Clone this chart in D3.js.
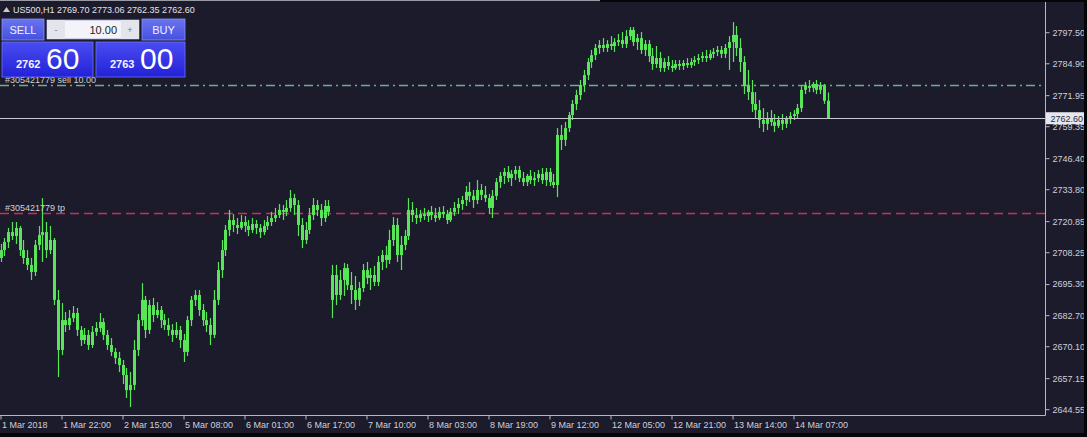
<!DOCTYPE html>
<html><head><meta charset="utf-8">
<script src="https://cdn.jsdelivr.net/npm/d3@7/dist/d3.min.js"></script>
<style>html,body{margin:0;padding:0;background:#1c1b2c;overflow:hidden}svg{display:block}</style>
</head><body>
<svg id="c" width="1087" height="437"></svg>
<script>
const symbolTitle = "US500,H1";
const lastOHLC = ["2769.70","2773.06","2762.35","2762.60"];
const timeLabels = ["1 Mar 2018","1 Mar 22:00","2 Mar 15:00","5 Mar 08:00","6 Mar 01:00","6 Mar 17:00","7 Mar 10:00","8 Mar 03:00","8 Mar 19:00","9 Mar 12:00","12 Mar 05:00","12 Mar 21:00","13 Mar 14:00","14 Mar 07:00"];
const timeLabelBars = [0,16,32,48,64,80,96,112,128,144,160,176,192,208];
const priceTicks = [2797.50,2784.90,2771.95,2759.35,2746.40,2733.80,2720.85,2708.25,2695.30,2682.70,2670.10,2657.15,2644.55];
const bidPrice = 2762.60, askPrice = 2763.00;
const sellLevel = 2776.0, tpLevel = 2724.0;
const orderLabelSell = "#305421779 sell 10.00", orderLabelTp = "#305421779 tp";
const lotSize = "10.00";

const opens = [
2705.9,2709.1,2712.4,2716.4,2714.8,2718.1,2709.1,2705.9,2703.1,2700.2,
2711.2,2715.2,2716.4,2709.1,2713.2,2688.9,2668.6,2680.7,2678.7,2681.5,
2683.6,2676.7,2672.6,2674.7,2670.6,2675.9,2677.5,2679.9,2674.7,2670.6,
2667.8,2665.3,2662.5,2658.4,2652.3,2654.4,2668.6,2680.7,2688.9,2676.7,
2686.8,2682.8,2684.8,2680.7,2678.7,2676.7,2674.7,2676.7,2672.6,2667.8,
2680.7,2688.9,2690.9,2684.8,2680.7,2678.7,2674.7,2688.9,2701.0,2709.1,
2717.3,2721.3,2719.3,2718.1,2720.5,2718.9,2717.3,2719.7,2718.1,2716.4,
2718.9,2720.5,2722.1,2723.3,2725.4,2724.6,2726.2,2730.2,2727.4,2719.3,
2713.2,2717.3,2723.3,2727.4,2725.4,2722.1,2727.0,2688.9,2699.0,2690.9,
2697.0,2701.8,2694.9,2692.9,2688.9,2693.7,2701.0,2697.8,2699.0,2696.2,
2704.3,2707.1,2705.1,2713.2,2719.3,2707.1,2711.2,2714.8,2725.4,2723.3,
2722.1,2723.7,2722.9,2724.6,2723.3,2722.1,2724.6,2723.7,2721.3,2724.6,
2726.2,2727.8,2729.4,2732.7,2731.1,2729.4,2733.5,2731.5,2730.2,2726.2,
2731.1,2736.7,2739.2,2740.8,2738.3,2740.0,2741.6,2738.3,2736.7,2739.2,
2737.5,2738.3,2740.0,2737.5,2740.8,2736.7,2735.5,2755.8,2753.8,2758.6,
2763.9,2768.4,2772.0,2776.1,2780.1,2785.4,2788.2,2791.1,2792.3,2791.1,
2792.7,2791.9,2793.5,2794.3,2792.7,2795.9,2798.4,2793.5,2795.1,2790.3,
2792.7,2787.8,2784.6,2787.0,2783.0,2785.4,2783.8,2783.0,2784.6,2783.8,
2785.0,2784.2,2785.4,2786.2,2787.0,2787.8,2787.0,2788.7,2789.5,2790.3,
2788.7,2791.1,2793.5,2796.4,2791.1,2785.4,2775.7,2773.2,2768.4,2765.9,
2761.9,2760.3,2762.7,2761.1,2759.5,2761.9,2760.3,2762.7,2763.5,2764.3,
2766.7,2774.1,2775.7,2774.9,2776.5,2774.1,2775.7,2769.70];
const highs = [
2711.6,2714.0,2718.1,2720.5,2720.5,2718.9,2713.2,2709.1,2705.9,2713.2,
2718.9,2730.2,2720.5,2718.9,2714.0,2692.9,2687.6,2684.0,2684.8,2686.4,
2685.6,2678.3,2677.5,2676.7,2678.3,2679.9,2683.6,2681.5,2676.7,2673.4,
2669.4,2667.8,2664.5,2661.3,2659.6,2672.6,2683.2,2695.7,2690.5,2688.9,
2689.7,2688.0,2686.4,2683.2,2681.5,2679.1,2679.9,2678.3,2675.1,2682.4,
2690.5,2692.9,2692.9,2687.2,2684.0,2681.5,2692.9,2704.3,2713.2,2719.3,
2725.4,2723.7,2722.1,2723.3,2722.9,2721.3,2722.1,2721.3,2719.7,2721.3,
2722.9,2724.6,2726.2,2727.8,2727.4,2729.4,2733.5,2731.9,2729.4,2722.1,
2720.5,2726.2,2730.2,2729.4,2727.8,2729.4,2729.4,2703.1,2703.1,2701.0,
2703.9,2703.5,2700.2,2698.6,2696.2,2703.5,2704.3,2701.8,2702.7,2706.7,
2709.1,2710.8,2717.3,2722.5,2722.1,2714.8,2717.3,2730.2,2728.6,2726.2,
2725.4,2726.2,2725.4,2727.0,2726.2,2726.6,2727.0,2725.4,2726.2,2728.6,
2730.2,2731.1,2735.1,2736.7,2733.5,2737.5,2735.9,2735.1,2731.9,2733.5,
2738.3,2740.8,2742.4,2743.2,2741.6,2743.2,2743.2,2740.8,2740.0,2741.6,
2740.8,2741.6,2742.4,2742.4,2742.4,2740.0,2758.6,2759.9,2761.1,2765.1,
2770.0,2774.1,2778.1,2782.2,2787.0,2790.3,2792.7,2794.3,2795.1,2794.3,
2795.9,2795.1,2796.8,2797.6,2798.4,2799.6,2799.6,2796.8,2797.6,2794.3,
2794.3,2791.1,2791.9,2789.5,2787.0,2787.8,2786.2,2786.2,2786.2,2786.2,
2787.0,2787.0,2787.8,2788.7,2789.5,2790.3,2790.3,2791.1,2791.9,2791.9,
2792.7,2795.9,2801.6,2800.0,2795.1,2787.8,2782.2,2778.1,2773.2,2770.0,
2766.7,2765.1,2765.9,2764.3,2763.5,2764.3,2763.5,2765.1,2765.9,2768.4,
2775.7,2777.3,2778.1,2777.3,2778.1,2777.3,2776.5,2773.06];
const lows = [
2704.3,2706.7,2709.9,2713.2,2711.6,2706.7,2703.5,2701.0,2697.0,2698.6,
2709.1,2704.3,2705.9,2707.5,2686.8,2657.6,2666.5,2675.9,2676.7,2679.9,
2674.3,2670.2,2671.0,2668.6,2669.4,2674.3,2675.9,2672.6,2668.6,2666.1,
2662.9,2659.6,2654.8,2649.1,2645.4,2652.3,2666.1,2678.3,2673.4,2675.1,
2679.9,2681.5,2677.5,2676.7,2674.3,2671.8,2673.4,2669.4,2663.7,2666.1,
2678.3,2686.4,2682.4,2678.3,2675.9,2670.6,2673.4,2686.8,2697.8,2706.7,
2714.8,2716.4,2715.6,2717.3,2716.4,2714.8,2716.0,2715.6,2714.0,2715.2,
2717.3,2718.9,2720.5,2722.1,2721.3,2722.9,2724.6,2723.3,2714.8,2709.9,
2711.6,2715.6,2721.3,2722.9,2718.9,2720.5,2722.9,2681.5,2686.8,2688.9,
2690.5,2692.9,2687.2,2684.8,2686.4,2692.1,2695.3,2692.9,2694.5,2694.5,
2701.0,2701.8,2703.5,2710.8,2704.3,2701.0,2709.1,2713.2,2720.5,2719.7,
2720.5,2721.3,2720.5,2721.3,2720.5,2721.3,2722.1,2719.7,2720.5,2722.9,
2723.7,2725.4,2727.0,2728.6,2726.2,2727.8,2729.4,2728.6,2723.7,2722.1,
2729.4,2734.3,2735.9,2736.7,2735.1,2737.5,2736.7,2735.1,2735.1,2735.9,
2735.1,2736.7,2735.9,2735.1,2735.1,2734.3,2730.6,2749.7,2751.3,2757.0,
2761.9,2765.9,2770.0,2773.2,2778.1,2783.0,2786.2,2788.7,2789.5,2789.5,
2790.3,2789.5,2791.9,2791.1,2791.1,2794.3,2791.9,2790.3,2788.7,2787.8,
2785.4,2782.2,2783.0,2781.4,2781.4,2782.2,2781.4,2782.2,2782.2,2782.2,
2783.0,2783.0,2783.8,2784.6,2785.4,2785.4,2786.2,2787.0,2787.8,2787.0,
2787.0,2782.2,2785.4,2787.8,2781.4,2772.4,2770.0,2765.1,2762.7,2758.6,
2757.0,2757.8,2759.5,2757.0,2758.6,2757.8,2758.6,2760.3,2761.9,2762.7,
2765.1,2772.4,2773.2,2773.2,2772.4,2772.4,2768.4,2762.35];
const closes = [
2709.1,2712.4,2716.4,2714.8,2718.1,2709.1,2705.9,2703.1,2700.2,2711.2,
2715.2,2716.4,2709.1,2713.2,2688.9,2668.6,2680.7,2678.7,2681.5,2683.6,
2676.7,2672.6,2674.7,2670.6,2675.9,2677.5,2679.9,2674.7,2670.6,2667.8,
2665.3,2662.5,2658.4,2652.3,2654.4,2668.6,2680.7,2688.9,2676.7,2686.8,
2682.8,2684.8,2680.7,2678.7,2676.7,2674.7,2676.7,2672.6,2667.8,2680.7,
2688.9,2690.9,2684.8,2680.7,2678.7,2674.7,2688.9,2701.0,2709.1,2717.3,
2721.3,2719.3,2718.1,2720.5,2718.9,2717.3,2719.7,2718.1,2716.4,2718.9,
2720.5,2722.1,2723.3,2725.4,2724.6,2726.2,2730.2,2727.4,2719.3,2713.2,
2717.3,2723.3,2727.4,2725.4,2722.1,2727.0,2724.6,2699.0,2690.9,2697.0,
2701.8,2694.9,2692.9,2688.9,2693.7,2701.0,2697.8,2699.0,2696.2,2704.3,
2707.1,2705.1,2713.2,2719.3,2707.1,2711.2,2714.8,2725.4,2723.3,2722.1,
2723.7,2722.9,2724.6,2723.3,2722.1,2724.6,2723.7,2721.3,2724.6,2726.2,
2727.8,2729.4,2732.7,2731.1,2729.4,2733.5,2731.5,2730.2,2726.2,2731.1,
2736.7,2739.2,2740.8,2738.3,2740.0,2741.6,2738.3,2736.7,2739.2,2737.5,
2738.3,2740.0,2737.5,2740.8,2736.7,2735.5,2755.8,2753.8,2758.6,2763.9,
2768.4,2772.0,2776.1,2780.1,2785.4,2788.2,2791.1,2792.3,2791.1,2792.7,
2791.9,2793.5,2794.3,2792.7,2795.9,2798.4,2793.5,2795.1,2790.3,2792.7,
2787.8,2784.6,2787.0,2783.0,2785.4,2783.8,2783.0,2784.6,2783.8,2785.0,
2784.2,2785.4,2786.2,2787.0,2787.8,2787.0,2788.7,2789.5,2790.3,2788.7,
2791.1,2793.5,2796.4,2791.1,2785.4,2775.7,2773.2,2768.4,2765.9,2761.9,
2760.3,2762.7,2761.1,2759.5,2761.9,2760.3,2762.7,2763.5,2764.3,2766.7,
2774.1,2775.7,2774.9,2776.5,2774.1,2775.7,2769.70,2762.60];

const W = 1087, H = 437;
const plotRight = 1045.5, plotBottom = 415.5;
const BG = "#1c1b2c", AXIS = "#b8b8c0", TXT = "#d0d0d8", GREEN = "#58e658";
const FONT = "'Liberation Sans', Arial, sans-serif";

const svg = d3.select("#c");
svg.append("rect").attr("width", W).attr("height", H).attr("fill", BG);

const x = d3.scaleLinear().domain([0, 16]).range([0.5, 61.5]);
const y = d3.scaleLinear().domain([2644.55, 2797.50]).range([409.2, 32.2]);

const bars = closes.map((c, i) => ({i, o: opens[i], h: highs[i], l: lows[i], c}));

// level lines
const lines = svg.append("g");
lines.append("line").attr("x1", 0).attr("x2", plotRight).attr("y1", Math.round(y(tpLevel)) + 0.5).attr("y2", Math.round(y(tpLevel)) + 0.5)
  .attr("stroke", "#c8324f").attr("stroke-width", 1.4).attr("stroke-dasharray", "9,5");
lines.append("line").attr("x1", 0).attr("x2", plotRight).attr("y1", Math.round(y(sellLevel)) + 0.5).attr("y2", Math.round(y(sellLevel)) + 0.5)
  .attr("stroke", "#6cb084").attr("stroke-width", 1.4).attr("stroke-dasharray", "9,4,2,4");

// candles
const cg = svg.append("g");
bars.forEach(b => {
  const cx = Math.round(x(b.i));
  cg.append("line").attr("x1", cx + 0.5).attr("x2", cx + 0.5).attr("y1", y(b.h)).attr("y2", y(b.l))
    .attr("stroke", GREEN).attr("stroke-width", 1.2);
  const top = Math.min(y(b.o), y(b.c)), hh = Math.max(1, Math.abs(y(b.o) - y(b.c)));
  cg.append("rect").attr("x", cx - 1).attr("y", top).attr("width", 3).attr("height", hh).attr("fill", GREEN);
});

// bid line
svg.append("line").attr("x1", 0).attr("x2", plotRight).attr("y1", Math.round(y(bidPrice)) + 0.5).attr("y2", Math.round(y(bidPrice)) + 0.5)
  .attr("stroke", "#c8c8d0").attr("stroke-width", 1);

// order labels
svg.append("text").attr("x", 5).attr("y", y(sellLevel) - 2).attr("fill", "#d0d0d8").attr("font-family", FONT).attr("font-size", 9).text(orderLabelSell);
svg.append("text").attr("x", 5).attr("y", y(tpLevel) - 2).attr("fill", "#d0d0d8").attr("font-family", FONT).attr("font-size", 9).text(orderLabelTp);

// axes
const yAxis = d3.axisRight(y).tickValues(priceTicks).tickFormat(d3.format(".2f")).tickSize(4).tickPadding(3);
const gy = svg.append("g").attr("transform", `translate(${plotRight},0)`).call(yAxis);
gy.select(".domain").remove();
gy.selectAll("line").attr("stroke", AXIS);
gy.selectAll("text").attr("fill", TXT).attr("font-family", FONT).attr("font-size", 9);

const xAxis = d3.axisBottom(x).tickValues(timeLabelBars).tickFormat((d, k) => timeLabels[k]).tickSize(4).tickPadding(2);
const gx = svg.append("g").attr("transform", `translate(0,${plotBottom})`).call(xAxis);
gx.select(".domain").remove();
gx.selectAll("line").attr("stroke", AXIS);
gx.selectAll("text").attr("fill", TXT).attr("font-family", FONT).attr("font-size", 9).attr("text-anchor", "start").attr("dx", 1);

svg.append("line").attr("x1", plotRight).attr("x2", plotRight).attr("y1", 0).attr("y2", plotBottom).attr("stroke", AXIS);
svg.append("line").attr("x1", 0).attr("x2", plotRight).attr("y1", plotBottom).attr("y2", plotBottom).attr("stroke", AXIS);

// bid price tag
const by = y(bidPrice);
svg.append("rect").attr("x", plotRight + 0.5).attr("y", by - 6).attr("width", 41).attr("height", 12).attr("fill", "#e6e6ee");
svg.append("text").attr("x", plotRight + 5).attr("y", by + 3.5).attr("fill", "#2a2a3a").attr("font-family", FONT).attr("font-size", 9).text(d3.format(".2f")(bidPrice));

// frame edges
svg.append("rect").attr("x", 0).attr("y", 433).attr("width", W).attr("height", 4).attr("fill", "#050508");
svg.append("rect").attr("x", 1084).attr("y", 0).attr("width", 3).attr("height", H).attr("fill", "#050508");
svg.append("rect").attr("x", 600).attr("y", 0).attr("width", 487).attr("height", 2).attr("fill", "#050508");
svg.append("line").attr("x1", 0).attr("x2", 600).attr("y1", 0.5).attr("y2", 0.5).attr("stroke", "#9a9aa6");

// header
svg.append("path").attr("d", "M3,12 L6.5,7 L10,12 Z").attr("fill", "#c8c8d0");
svg.append("text").attr("x", 13).attr("y", 13).attr("fill", "#e2e2ea").attr("font-family", FONT).attr("font-size", 9)
  .text(symbolTitle + "  " + lastOHLC.join(" "));

// one-click trading panel
const defs = svg.append("defs");
const g1 = defs.append("linearGradient").attr("id", "pbox").attr("x1", 0).attr("y1", 0).attr("x2", 0).attr("y2", 1);
g1.append("stop").attr("offset", "0%").attr("stop-color", "#4a4cf2");
g1.append("stop").attr("offset", "100%").attr("stop-color", "#2222d6");
const g2 = defs.append("linearGradient").attr("id", "btn").attr("x1", 0).attr("y1", 0).attr("x2", 0).attr("y2", 1);
g2.append("stop").attr("offset", "0%").attr("stop-color", "#6a74f0");
g2.append("stop").attr("offset", "100%").attr("stop-color", "#4550e0");

const panel = svg.append("g");
panel.append("rect").attr("x", 2).attr("y", 19).attr("width", 42).attr("height", 21).attr("fill", "url(#btn)").attr("stroke", "#8890f5").attr("stroke-width", 0.8);
panel.append("text").attr("x", 23).attr("y", 34).attr("text-anchor", "middle").attr("fill", "#f0f0ff").attr("font-family", FONT).attr("font-size", 11).text("SELL");
panel.append("rect").attr("x", 142).attr("y", 19).attr("width", 43).attr("height", 21).attr("fill", "url(#btn)").attr("stroke", "#8890f5").attr("stroke-width", 0.8);
panel.append("text").attr("x", 163.5).attr("y", 34).attr("text-anchor", "middle").attr("fill", "#f0f0ff").attr("font-family", FONT).attr("font-size", 11).text("BUY");
panel.append("rect").attr("x", 47).attr("y", 20).attr("width", 92).attr("height", 19).attr("fill", "#f4f4f8").attr("stroke", "#9aa0d0").attr("stroke-width", 0.8);
panel.append("rect").attr("x", 47).attr("y", 20).attr("width", 18).attr("height", 19).attr("fill", "#e4e4ec");
panel.append("rect").attr("x", 121).attr("y", 20).attr("width", 18).attr("height", 19).attr("fill", "#e4e4ec");
panel.append("text").attr("x", 56).attr("y", 33).attr("text-anchor", "middle").attr("fill", "#777").attr("font-family", FONT).attr("font-size", 9).text("-");
panel.append("text").attr("x", 130).attr("y", 33).attr("text-anchor", "middle").attr("fill", "#777").attr("font-family", FONT).attr("font-size", 9).text("+");
panel.append("text").attr("x", 117).attr("y", 34).attr("text-anchor", "end").attr("fill", "#222").attr("font-family", FONT).attr("font-size", 11).text(lotSize);

function priceBox(x0, w, price) {
  const s = d3.format(".2f")(price).split(".");
  panel.append("rect").attr("x", x0).attr("y", 42).attr("width", w).attr("height", 35).attr("fill", "url(#pbox)").attr("stroke", "#6c70f4").attr("stroke-width", 0.8);
  panel.append("text").attr("x", x0 + 14).attr("y", 68).attr("fill", "#f4f4ff").attr("font-family", FONT).attr("font-weight", "bold").attr("font-size", 11).text(s[0]);
  panel.append("text").attr("x", x0 + 44).attr("y", 69).attr("fill", "#ffffff").attr("font-family", FONT).attr("font-size", 30).text(s[1]);
}
priceBox(2, 91, bidPrice);
priceBox(96, 89, askPrice);
</script>
</body></html>
